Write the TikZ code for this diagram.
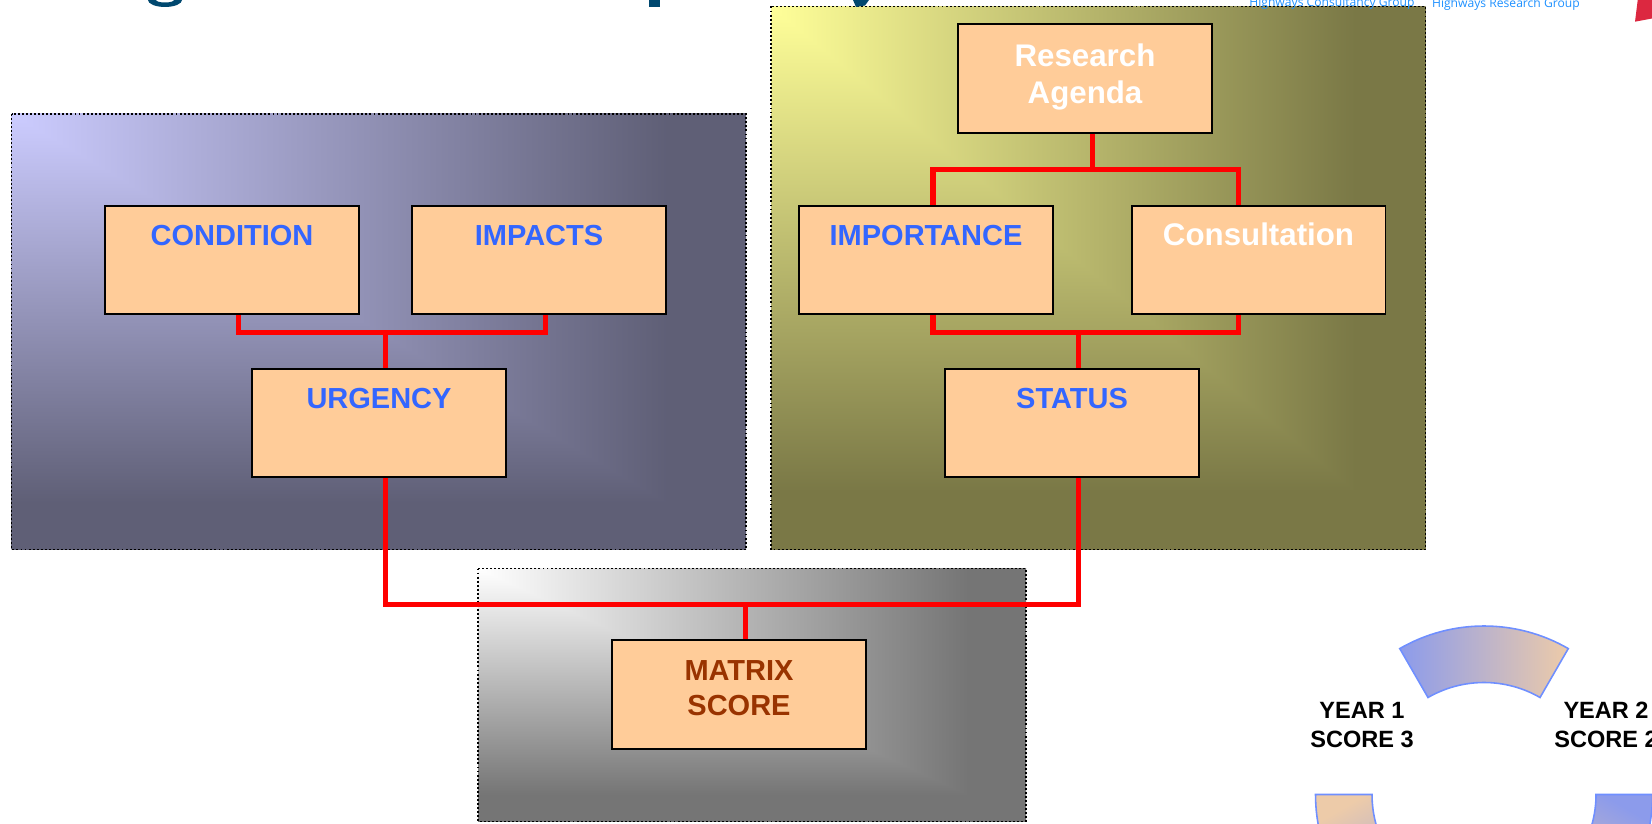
\documentclass[tikz,border=0pt]{standalone}
\usepackage{fontspec}
\setmainfont{Liberation Sans}
\newfontfamily\logofont{Open Sans}

\definecolor{boxfill}{HTML}{FFCC99}
\definecolor{labelblue}{HTML}{3366FF}
\definecolor{scorebrown}{HTML}{993300}
\definecolor{linkred}{HTML}{FF0000}
\definecolor{ringblue}{HTML}{8C9BEB}
\definecolor{ringpeach}{HTML}{EDCBA9}
\definecolor{ringedge}{HTML}{6F8FFF}
\definecolor{logoblue}{HTML}{1E90FF}
\definecolor{logored}{HTML}{DC2840}
\definecolor{titleblue}{HTML}{00486F}

% corner gradients of the three panels
\pgfdeclarefunctionalshading{urgencyfade}{\pgfpoint{-50bp}{-50bp}}{\pgfpoint{50bp}{50bp}}{}{
  25 exch sub 50 div exch 25 add 50 div
  2 copy lt {exch} if pop
  1.12 mul dup 1 gt {pop 1} if dup 0 lt {pop 0} if
  dup -0.428 mul 0.8 add exch
  dup -0.428 mul 0.8 add exch
  -0.537 mul 1 add
}
\pgfdeclarefunctionalshading{statusfade}{\pgfpoint{-50bp}{-50bp}}{\pgfpoint{50bp}{50bp}}{}{
  25 exch sub 50 div exch 25 add 50 div
  2 copy lt {exch} if pop
  1.12 mul dup 1 gt {pop 1} if dup 0 lt {pop 0} if
  dup -0.522 mul 1 add exch
  dup -0.529 mul 1 add exch
  -0.325 mul 0.6 add
}
\pgfdeclarefunctionalshading{matrixfade}{\pgfpoint{-50bp}{-50bp}}{\pgfpoint{50bp}{50bp}}{}{
  25 exch sub 50 div exch 25 add 50 div
  2 copy lt {exch} if pop
  1.12 mul dup 1 gt {pop 1} if dup 0 lt {pop 0} if
  dup -0.54 mul 1 add exch
  dup -0.54 mul 1 add exch
  -0.54 mul 1 add
}

\begin{document}
\begin{tikzpicture}[x=0.02cm, y=-0.02cm,
	box/.style={draw, line width=1.1pt, fill=boxfill, inner sep=0pt, minimum width=5.08cm, minimum height=2.174cm, text height=0.8cm, text depth=1.374cm, font=\bfseries\fontsize{16.5}{19.9}\selectfont, text=labelblue},
	link/.style={draw=linkred, line width=2.9pt, line join=miter},
	panel/.style={draw=black, line width=1.1pt, dash pattern=on 1.1pt off 1.2pt},
	ring/.style={draw=ringedge, line width=0.9pt},
	year/.style={align=center, font=\bfseries\fontsize{13.4}{16.5}\selectfont},
	logo/.style={anchor=base west, inner sep=0pt, text=logoblue, font=\logofont\fontsize{6.9}{8}\selectfont}]
			
			\clip (0,0) rectangle (1652,824);
			
			\draw[panel, shade, shading=urgencyfade] (11.5,114) rectangle (746,549.5);
			\draw[panel, shade, shading=statusfade] (771,6.5) rectangle (1425.5,549.5);
			\draw[panel, shade, shading=matrixfade] (478,568.5) rectangle (1026,821.5);
			
			\node[box] 
			(Condition) at (232,260) {CONDITION};
			\node[box] 
			(Impacts) at (539,260) {IMPACTS};
			\node[box] 
			(Urgency) at (379,423) {URGENCY};
			
			\node[box, text=white, align=center, font=\bfseries\fontsize{17.8}{21.3}\selectfont, text height=1.592cm, text depth=0.582cm] 
			(Research) at (1085,78.5) {Research\\Agenda};
			\node[box] 
			(Importance) at (926,260) {IMPORTANCE};
			\node[box, text=white, font=\bfseries\fontsize{17.8}{21.3}\selectfont] 
			(Consultation) at (1258.5,260) {Consultation};
			\node[box] 
			(Status) at (1072,423) {STATUS};
			
			\node[box, text=scorebrown, align=center, text height=1.5cm, text depth=0.674cm] 
			(Matrix) at (739,694.5) {MATRIX\\SCORE};
			
			\coordinate (CondImp) at (385.4,332.3);
			\coordinate (AgendaSplit) at (1092.6,169.3);
			\coordinate (ImpCons) at (1078.7,332.9);
			\coordinate (ScoreJoin) at (745.6,604.3);
			
			\draw[link] ([xshift=0.13cm]Condition.south) |- (CondImp) -| ([xshift=0.13cm]Impacts.south);
			\draw[link] (CondImp) -- (Urgency.north -| CondImp);
			
			\draw[link] (Research.south -| AgendaSplit) -- (AgendaSplit);
			\draw[link] ([xshift=0.14cm]Importance.north) |- (AgendaSplit) -| ([xshift=-0.4cm]Consultation.north);
			\draw[link] ([xshift=0.14cm]Importance.south) |- (ImpCons) -| ([xshift=-0.4cm]Consultation.south);
			\draw[link] (ImpCons) -- (Status.north -| ImpCons);
			
			\draw[link] (Urgency.south -| CondImp) |- (ScoreJoin) -| (Status.south -| ImpCons);
			\draw[link] (ScoreJoin) -- (Matrix.north -| ScoreJoin);
			
			% year ring, bottom right
			\begin{scope}[shift={(1484,794.5)}, y=0.02cm]
			\draw[ring, left color=ringblue, right color=ringpeach] (120:168.5) arc[start angle=120, end angle=60, radius=168.5] -- (60:112) arc[start angle=60, end angle=120, radius=112] -- cycle;
			\draw[ring, top color=ringpeach, bottom color=ringblue, shading angle=30] (180:168.5) arc[start angle=180, end angle=240, radius=168.5] -- (240:112) arc[start angle=240, end angle=180, radius=112] -- cycle;
			\draw[ring, top color=ringblue, bottom color=ringpeach, shading angle=-30] (300:168.5) arc[start angle=300, end angle=360, radius=168.5] -- (0:112) arc[start angle=360, end angle=300, radius=112] -- cycle;
			\end{scope}
			
			\node[year] (Year1) at (1362,725) {YEAR 1\\SCORE 3};
			\node[year] (Year2) at (1606,725) {YEAR 2\\SCORE 2};
			
			% header remains
			\node[logo] (Consultancy) at (1249,6.5) {Highways Consultancy Group};
			\node[logo] (ResearchGroup) at (1431.7,7.5) {Highways Research Group};
			\fill[logored] (1637.7,0) -- (1652,0) -- (1652,18.5) -- (1635,21.7) -- cycle;
			\fill[titleblue] (148,0) arc[start angle=180, end angle=0, x radius=17, y radius=7] -- (174,0) arc[start angle=0, end angle=180, x radius=9, y radius=2.5] -- cycle;
			\fill[titleblue] (649,0) rectangle (660,6.7);
			\fill[titleblue] (853,0) -- (869,0) -- (865,5.5) -- (856,7) -- cycle;
			
		\end{tikzpicture}
\end{document}
